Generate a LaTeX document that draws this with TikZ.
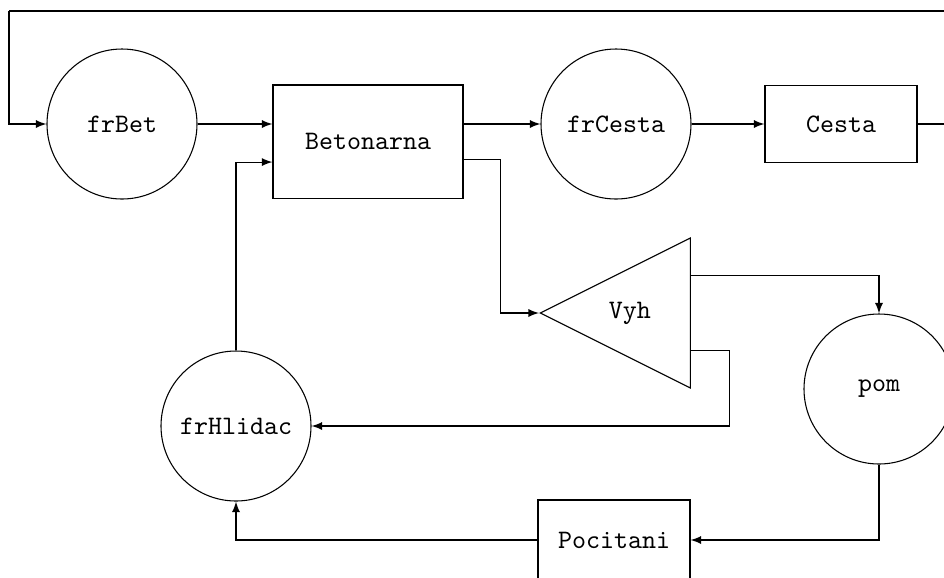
\documentclass[tikz,border=0pt]{standalone}
\usetikzlibrary{shapes.geometric,calc}
\begin{document}
\begin{tikzpicture}[x=0.375pt,y=-0.375pt,font=\ttfamily,>=latex,
  blok/.style={draw,inner sep=0pt,minimum width=57pt,minimum height=28.9pt},
  fr/.style={draw,circle,inner sep=0pt,minimum size=56.25pt}]
\useasboundingbox (0,0) rectangle (944,577);
% upper row
\node[fr] (frBet) at (122,124) {frBet};
\node[blok,minimum width=71.25pt,minimum height=42.4pt] (bet) at (368,141.5) {Betonarna};
\node[fr] (frCesta) at (616,124) {frCesta};
\node[blok] (cesta) at (841,124) {Cesta};
% lower part
\node[draw,isosceles triangle,isosceles triangle stretches,shape border rotate=180,
  minimum width=56.25pt,minimum height=56.25pt,inner sep=0pt,anchor=apex,
  label={[xshift=-5.3pt]center:Vyh}] (vyh) at (539,313) {};
\node[fr] (pom) at (879,389) {pom};
\node[fr] (frHlidac) at (236,426) {frHlidac};
\node[blok,minimum height=30pt] (poc) at (614,540) {Pocitani};
\coordinate (top) at (9,11);
\coordinate (out) at (944,124);
\coordinate (b1) at ($(bet.south east)!.34!(bet.north east)$);
\coordinate (b2) at ($(bet.south west)!.32!(bet.north west)$);
\coordinate (v1) at ($(vyh.right corner)!.25!(vyh.left corner)$);
\coordinate (v2) at ($(vyh.right corner)!.75!(vyh.left corner)$);
% main line
\draw[->] (top) |- (frBet.west);
\draw (top) -- (top -| out);
\draw[->] (frBet) -- (bet.west |- frBet);
\draw[->] (bet.east |- frCesta) -- (frCesta);
\draw[->] (frCesta) -- (cesta);
\draw (cesta) -- (out);
% branches
\draw[->] (b1) -- ++(37,0) |- (vyh.apex);
\draw[->] (v1) -| (pom.north);
\draw[->] (v2) -- ++(39,0) |- (frHlidac.east);
\draw[->] (frHlidac.north) |- (b2);
\draw[->] (pom.south) |- (poc.east);
\draw[->] (poc.west) -| (frHlidac.south);
\end{tikzpicture}
\end{document}
